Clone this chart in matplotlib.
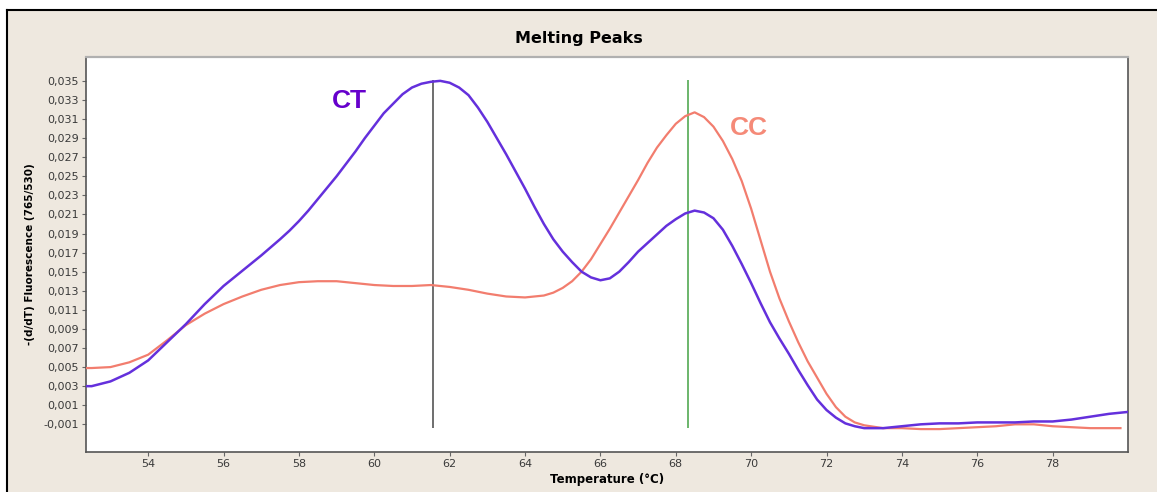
import numpy as np
import matplotlib
matplotlib.use("Agg")
import matplotlib.pyplot as plt
from matplotlib.ticker import FuncFormatter
from matplotlib.lines import Line2D

# Melting curve derivative data, -(d/dT) fluorescence vs temperature
temp_ct = [52.35, 52.5, 53.0, 53.5, 54.0, 54.5, 55.0, 55.5, 56.0, 56.5, 57.0, 57.5, 57.75,
           58.0, 58.25, 58.5, 58.75, 59.0, 59.25, 59.5, 59.75, 60.0, 60.25, 60.5, 60.75,
           61.0, 61.25, 61.5, 61.75, 62.0, 62.25, 62.5, 62.75, 63.0, 63.25, 63.5, 63.75,
           64.0, 64.25, 64.5, 64.75, 65.0, 65.25, 65.5, 65.75, 66.0, 66.25, 66.5, 66.75,
           67.0, 67.25, 67.5, 67.75, 68.0, 68.25, 68.5, 68.75, 69.0, 69.25, 69.5, 69.75,
           70.0, 70.25, 70.5, 70.75, 71.0, 71.25, 71.5, 71.75, 72.0, 72.25, 72.5, 72.75,
           73.0, 73.5, 74.0, 74.5, 75.0, 75.5, 76.0, 76.5, 77.0, 77.5, 78.0, 78.5,
           79.0, 79.5, 80.0]
ct = [0.0030, 0.0030, 0.0035, 0.0044, 0.0057, 0.0076, 0.0095, 0.0116, 0.0135, 0.0151,
      0.0167, 0.0184, 0.0193, 0.0203, 0.0214, 0.0226, 0.0238, 0.0250, 0.0263, 0.0276,
      0.0290, 0.0303, 0.0316, 0.0326, 0.0336, 0.0343, 0.0347, 0.0349, 0.0350, 0.0348,
      0.0343, 0.0335, 0.0322, 0.0307, 0.0290, 0.0273, 0.0255, 0.0237, 0.0218, 0.0200,
      0.0184, 0.0171, 0.0160, 0.0150, 0.0144, 0.0141, 0.0143, 0.0150, 0.0160, 0.0171,
      0.0180, 0.0189, 0.0198, 0.0205, 0.0211, 0.0214, 0.0212, 0.0206, 0.0194, 0.0177,
      0.0158, 0.0138, 0.0117, 0.0097, 0.0080, 0.0064, 0.0047, 0.0031, 0.0016, 0.0005,
      -0.0003, -0.0009, -0.0012, -0.0014, -0.0014, -0.0012, -0.0010, -0.0009, -0.0009,
      -0.0008, -0.0008, -0.0008, -0.0007, -0.0007, -0.0005, -0.0002, 0.0001, 0.0003]

temp_cc = [52.35, 52.5, 53.0, 53.5, 54.0, 54.5, 55.0, 55.5, 56.0, 56.5, 57.0, 57.5,
           58.0, 58.5, 59.0, 59.5, 60.0, 60.5, 61.0, 61.5, 62.0, 62.5, 63.0, 63.5,
           64.0, 64.5, 64.75, 65.0, 65.25, 65.5, 65.75, 66.0, 66.25, 66.5, 66.75,
           67.0, 67.25, 67.5, 67.75, 68.0, 68.25, 68.5, 68.75, 69.0, 69.25, 69.5, 69.75,
           70.0, 70.25, 70.5, 70.75, 71.0, 71.25, 71.5, 71.75, 72.0, 72.25, 72.5, 72.75,
           73.0, 73.5, 74.0, 74.5, 75.0, 75.5, 76.0, 76.5, 77.0, 77.5, 78.0, 78.5,
           79.0, 79.5, 79.8]
cc = [0.0049, 0.0049, 0.0050, 0.0055, 0.0063, 0.0078, 0.0094, 0.0106, 0.0116, 0.0124,
      0.0131, 0.0136, 0.0139, 0.0140, 0.0140, 0.0138, 0.0136, 0.0135, 0.0135, 0.0136,
      0.0134, 0.0131, 0.0127, 0.0124, 0.0123, 0.0125, 0.0128, 0.0133, 0.0140, 0.0150,
      0.0163, 0.0179, 0.0195, 0.0212, 0.0229, 0.0246, 0.0264, 0.0280, 0.0293, 0.0305,
      0.0313, 0.0317, 0.0312, 0.0302, 0.0287, 0.0268, 0.0245, 0.0216, 0.0183, 0.0150,
      0.0122, 0.0098, 0.0076, 0.0056, 0.0039, 0.0022, 0.0008, -0.0002, -0.0008,
      -0.0011, -0.0014, -0.0014, -0.0015, -0.0015, -0.0014, -0.0013, -0.0012, -0.0010,
      -0.0010, -0.0012, -0.0013, -0.0014, -0.0014, -0.0014]

# Tm markers
ct_peak_temp = 61.55
cc_peak_temp = 68.32
marker_low, marker_high = -0.0014, 0.0351

x_ticks = [54, 56, 58, 60, 62, 64, 66, 68, 70, 72, 74, 76, 78]
y_ticks = [-0.001, 0.001, 0.003, 0.005, 0.007, 0.009, 0.011, 0.013, 0.015, 0.017,
           0.019, 0.021, 0.023, 0.025, 0.027, 0.029, 0.031, 0.033, 0.035]

bg = "#eee8df"
fig = plt.figure(figsize=(11.57, 4.92), dpi=100, facecolor="white")

# beige panel with black top/left edge
fig.patches.append(plt.Rectangle((7 / 1157, 0), 1, 1 - 10 / 492, transform=fig.transFigure,
                                 facecolor=bg, edgecolor="none", zorder=-10))
fig.add_artist(Line2D([7 / 1157, 7 / 1157], [0, 1 - 10 / 492], color="black", lw=1.5))
fig.add_artist(Line2D([7 / 1157, 1], [1 - 10 / 492, 1 - 10 / 492], color="black", lw=1.5))

ax = fig.add_axes([86 / 1157, 40 / 492, (1128 - 86) / 1157, (452 - 57) / 492])
ax.set_facecolor("white")

ax.plot(temp_cc, cc, color="#f27d6e", lw=1.6, zorder=3, solid_joinstyle="round")
ax.plot(temp_ct, ct, color="#6430dc", lw=1.8, zorder=4, solid_joinstyle="round")

ax.vlines(ct_peak_temp, marker_low, marker_high, color="#555555", lw=1.2, zorder=2)
ax.vlines(cc_peak_temp, marker_low, marker_high, color="#6bb56b", lw=1.4, zorder=2)

ax.text(59.35, 0.0329, "CT", color="#6600cc", fontsize=19, fontweight="bold",
        family="Liberation Sans", ha="center", va="center")
ax.text(69.93, 0.0301, "CC", color="#f58a78", fontsize=19, fontweight="bold",
        family="Liberation Sans", ha="center", va="center")

ax.set_xlim(52.35, 80.0)
ax.set_ylim(-0.0039, 0.0375)
ax.set_xticks(x_ticks)
ax.set_yticks(y_ticks)
ax.yaxis.set_major_formatter(FuncFormatter(lambda v, p: f"{v:.3f}".replace(".", ",")))

ax.tick_params(axis="both", direction="out", length=3, width=0.8, color="#666666",
               labelsize=8, labelcolor="#3a3a3a", pad=2)
for side in ["left", "bottom", "right"]:
    ax.spines[side].set_color("#555555")
    ax.spines[side].set_linewidth(1.2)
ax.spines["top"].set_color("#b0b0b0")
ax.spines["top"].set_linewidth(1.6)

ax.set_xlabel("Temperature (°C)", fontsize=8.5, fontweight="bold", labelpad=3)
ax.set_ylabel("-(d/dT) Fluorescence (765/530)", fontsize=7.5, fontweight="bold", labelpad=6)
fig.text(0.5, 1 - 38 / 492, "Melting Peaks", ha="center", va="center",
         fontsize=11.5, fontweight="bold")

fig.savefig("out.png", dpi=100, facecolor=fig.get_facecolor())
